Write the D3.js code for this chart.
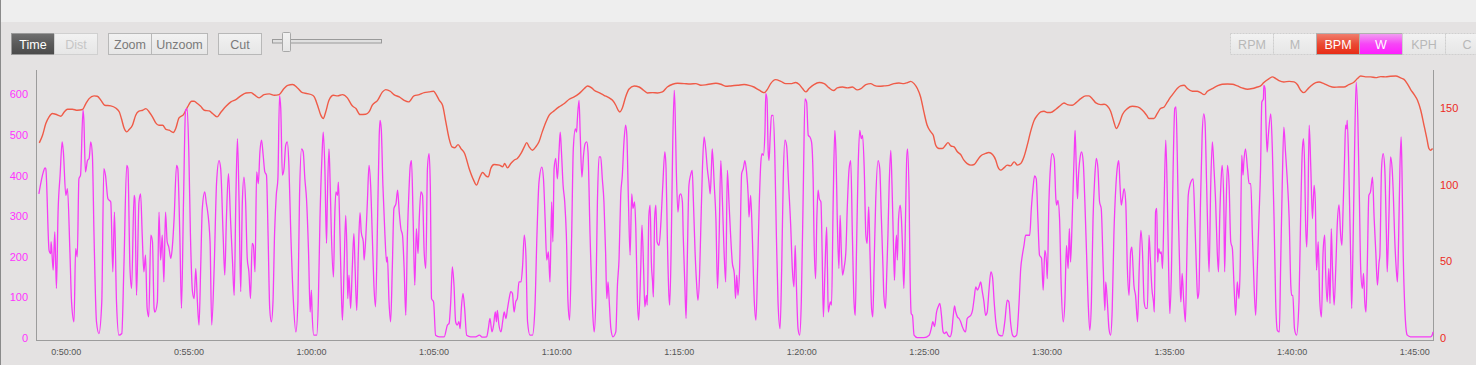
<!DOCTYPE html>
<html><head><meta charset="utf-8">
<script src="https://cdn.jsdelivr.net/npm/d3@7"></script>
<style>
html,body{margin:0;padding:0;background:#e4e2e2;overflow:hidden;}
svg{display:block;font-family:"Liberation Sans",Arial,Helvetica,sans-serif;}
</style></head><body>
<svg id="chart" width="1476" height="365"></svg>
<script>
// ---------- data ----------
const timeTicks = [3000,3300,3600,3900,4200,4500,4800,5100,5400,5700,6000,6300];
const wattTicks = [0,100,200,300,400,500,600];
const bpmTicks = [0,50,100,150];
const timeExtent = [2927, 6346];
const wattMax = 660;
const bpmMax = 175;
const leftButtons = ["Time","Dist"];
const zoomButtons = ["Zoom","Unzoom"];
const cutButtons = ["Cut"];
const seriesButtons = ["RPM","M","BPM","W","KPH","C"];

// heart rate [seconds, bpm]
const bpmPoints = [
[2935,127.4],[2943,132.4],[2951,140.0],[2959,144.4],[2967,146.6],[2975,146.1],[2988,144.8],[2996,147.6],[3004,149.4],[3016,149.4],
[3028,148.7],[3041,149.2],[3049,153.1],[3057,156.3],[3069,158.1],[3077,157.9],[3086,155.2],[3095,152.0],[3110,151.6],[3122,150.2],
[3131,147.6],[3136,143.3],[3143,136.8],[3149,134.6],[3155,136.1],[3163,138.9],[3171,145.5],[3179,148.1],[3188,148.7],[3196,149.8],
[3204,147.6],[3212,144.4],[3220,140.5],[3228,138.9],[3237,138.9],[3245,136.3],[3253,135.7],[3263,134.2],[3269,136.8],[3277,143.7],
[3288,145.9],[3298,150.9],[3308,154.6],[3314,154.6],[3322,153.1],[3330,151.3],[3339,148.7],[3351,148.3],[3359,146.6],[3370,144.4],
[3379,147.2],[3392,151.3],[3404,154.2],[3416,155.7],[3428,158.1],[3441,160.0],[3453,160.2],[3461,158.9],[3473,156.8],[3485,158.9],
[3498,159.4],[3510,158.5],[3522,158.9],[3534,162.9],[3543,165.0],[3555,165.5],[3567,163.3],[3579,160.2],[3591,159.6],[3604,158.5],
[3608,157.4],[3616,152.0],[3624,145.5],[3630,143.3],[3636,147.6],[3644,155.2],[3655,158.5],[3665,158.1],[3677,158.9],[3689,156.8],
[3701,151.6],[3710,149.8],[3720,145.9],[3734,146.1],[3742,147.6],[3750,152.0],[3763,155.2],[3775,160.7],[3783,162.2],[3794,161.1],
[3803,158.9],[3816,157.4],[3828,155.2],[3839,154.2],[3852,158.1],[3865,158.9],[3877,160.2],[3889,160.7],[3900,161.1],[3905,159.6],
[3914,155.2],[3922,152.0],[3930,141.1],[3938,130.2],[3945,124.8],[3952,124.2],[3960,126.3],[3967,123.7],[3976,120.5],[3987,110.7],
[3998,103.1],[4005,99.8],[4012,104.2],[4020,108.1],[4028,105.9],[4034,105.2],[4040,110.7],[4048,113.3],[4061,112.9],[4069,111.8],
[4074,113.9],[4081,111.1],[4089,113.9],[4097,116.1],[4105,117.2],[4114,120.5],[4122,124.8],[4128,127.6],[4134,124.8],[4142,122.6],
[4150,124.8],[4158,128.1],[4166,134.6],[4175,141.1],[4183,145.5],[4195,148.3],[4207,150.9],[4220,153.1],[4232,155.9],[4244,157.4],
[4256,159.6],[4269,162.9],[4277,164.6],[4287,163.3],
[4293,161.8],[4305,160.2],[4317,158.5],[4330,156.8],[4338,155.2],[4346,152.0],[4352,148.7],[4356,147.6],[4362,150.2],[4370,157.4],
[4378,162.4],[4391,164.6],[4403,163.9],[4414,161.8],[4423,160.0],[4436,160.2],[4448,160.0],[4460,160.7],[4472,163.9],[4485,165.7],
[4497,166.3],[4513,166.1],[4529,165.9],[4542,166.1],[4554,165.0],[4570,165.5],[4591,166.3],[4603,165.7],[4615,164.4],[4627,164.6],
[4644,165.0],[4660,165.5],[4672,165.0],[4684,163.9],[4697,161.8],[4709,160.2],[4717,162.4],[4725,166.1],[4737,168.7],[4750,167.6],
[4762,166.1],[4774,166.1],[4786,166.8],[4795,165.5],[4803,162.9],[4811,160.7],[4819,162.9],[4831,165.5],[4844,166.8],[4856,166.1],
[4868,163.3],[4879,161.6],[4888,163.3],[4901,163.9],[4913,163.3],[4925,163.9],[4937,162.0],[4946,162.9],[4958,165.5],[4970,166.1],
[4978,165.0],[4990,164.4],[5002,164.6],[5015,165.0],[5027,166.1],[5039,166.5],[5051,166.1],[5060,166.8],[5068,167.6],[5076,166.1],
[5084,162.9],[5092,157.4],[5100,147.6],[5108,138.9],[5117,134.6],[5123,132.4],[5129,125.9],[5137,123.7],[5145,123.7],[5153,125.9],
[5159,127.6],[5166,125.5],[5174,124.8],[5182,121.6],[5190,119.8],[5198,116.1],[5206,113.9],[5215,112.9],[5223,113.3],[5231,116.1],
[5239,118.9],[5251,120.5],[5259,121.1],[5268,119.8],[5276,116.1],[5281,111.8],[5288,109.6],[5296,111.1],[5304,112.9],[5312,112.4],
[5321,115.0],[5329,112.9],[5337,113.9],[5345,118.3],[5353,125.9],[5361,134.6],[5370,142.2],[5378,145.5],[5386,147.6],[5394,148.1],
[5402,147.2],[5410,147.2],[5423,149.4],[5435,152.0],[5443,153.5],[5451,152.4],[5463,152.0],[5472,153.5],[5484,156.3],[5496,158.1],
[5504,158.1],[5512,156.3],[5521,153.5],[5533,152.4],[5541,152.6],[5549,151.5],[5557,148.1],[5565,141.1],[5571,136.8],[5578,140.0],
[5586,145.9],[5598,149.8],[5610,151.3],[5623,150.9],[5635,148.7],[5645,145.5],[5651,143.3],
[5663,143.3],[5671,146.5],[5679,149.8],[5688,150.9],[5696,154.2],[5704,157.4],[5712,160.2],[5720,162.9],[5728,164.6],[5737,165.0],
[5745,162.9],[5757,161.1],[5769,161.1],[5777,160.2],[5786,158.9],[5794,161.1],[5806,162.9],[5818,164.6],[5830,165.7],[5843,165.9],
[5855,165.7],[5867,164.6],[5879,163.3],[5892,162.4],[5904,162.9],[5916,163.9],[5924,164.6],[5932,166.8],[5945,169.4],[5953,170.5],
[5961,169.4],[5969,168.1],[5981,167.2],[5994,167.6],[6006,167.2],[6014,165.5],[6022,161.8],[6030,160.2],[6039,162.4],[6047,164.6],
[6059,166.8],[6067,167.2],[6079,166.1],[6091,164.6],[6104,163.7],[6116,163.9],[6128,163.9],[6140,165.5],[6153,167.2],[6161,169.4],
[6169,171.1],[6181,170.5],[6193,170.5],[6206,170.0],[6218,170.7],[6230,170.5],[6242,170.9],[6255,171.1],[6267,169.8],[6275,168.9],
[6283,166.1],[6291,162.4],[6300,158.9],[6308,155.2],[6316,148.7],[6324,138.9],[6331,130.2],[6336,123.7],[6340,122.6],[6345,123.7]
];

// power [seconds, watts]
const wattPoints = [
[2934,355],[2945,409],[2949,419],[2951,417],[2959,216],[2963,208],[2964,237],[2969,167],[2973,261],[2977,122],
[2981,310],[2986,401],[2991,483],[2994,458],[3000,351],[3004,368],[3010,212],[3014,89],[3020,40],[3024,220],
[3028,200],[3032,392],[3036,401],[3042,561],[3044,540],[3048,409],[3053,437],[3057,442],[3061,483],[3065,450],
[3069,253],[3075,40],[3081,11],[3088,89],[3093,417],[3097,401],[3103,343],[3110,335],[3115,163],[3119,310],
[3124,89],[3130,7],[3137,11],[3142,171],[3149,425],[3152,417],[3157,171],[3161,122],[3167,351],[3169,343],
[3173,105],[3179,335],[3183,355],[3187,253],[3191,163],[3195,204],[3199,73],[3203,52],[3208,253],[3212,237],
[3216,73],[3218,64],[3224,89],[3228,310],[3232,192],[3236,253],[3240,138],[3244,310],[3248,237],[3252,224],
[3257,196],[3261,228],[3265,294],[3271,425],[3274,417],[3279,253],[3283,73],[3288,335],[3293,561],[3297,565],
[3301,458],[3305,253],[3310,114],[3314,97],[3318,171],[3322,89],[3326,32],[3330,171],[3334,319],[3340,360],
[3344,331],[3346,319],[3353,237],[3357,32],[3363,171],[3369,384],[3375,437],[3379,417],[3385,253],[3389,155],
[3393,294],[3398,405],[3403,294],[3408,187],[3412,105],[3416,335],[3420,491],[3424,335],[3428,114],[3432,335],
[3436,396],[3440,335],[3444,196],[3448,163],[3452,97],[3456,233],[3459,228],[3463,163],[3467,409],[3471,380],
[3475,458],[3479,487],[3483,450],[3487,409],[3491,401],[3495,253],[3499,73],[3503,40],[3507,89],[3511,261],
[3515,351],[3519,392],[3523,597],[3526,565],[3530,401],[3534,417],[3538,474],[3542,483],[3546,425],[3550,278],
[3557,89],[3563,15],[3568,89],[3572,351],[3577,466],[3581,458],[3585,392],[3589,343],[3594,212],[3598,64],
[3601,118],[3603,56],[3607,7],
[3614,7],[3618,89],[3622,294],[3627,450],[3630,507],[3634,417],[3638,233],[3640,335],[3644,466],[3646,417],
[3650,253],[3655,150],[3658,294],[3661,360],[3665,351],[3667,384],[3671,253],[3675,89],[3677,44],[3681,171],
[3685,302],[3688,212],[3690,97],[3693,155],[3697,73],[3701,171],[3705,257],[3708,171],[3712,68],[3716,212],
[3720,309],[3723,261],[3728,237],[3730,192],[3734,245],[3738,335],[3742,425],[3746,376],[3750,253],[3754,130],
[3758,77],[3763,294],[3767,499],[3769,536],[3772,515],[3776,376],[3781,253],[3785,187],[3787,200],[3791,89],
[3795,40],[3799,171],[3803,319],[3808,331],[3812,364],[3816,310],[3820,269],[3824,253],[3828,171],[3832,56],
[3836,253],[3840,368],[3843,425],[3846,437],[3850,294],[3854,130],[3858,269],[3862,208],[3865,294],[3869,360],
[3873,351],[3877,212],[3881,171],[3885,417],[3889,454],[3892,376],[3895,97],[3900,89],[3905,7],[3914,3],
[3926,3],[3934,32],[3938,36],[3942,89],[3946,175],[3950,130],[3954,40],[3958,32],[3962,40],[3965,23],
[3968,73],[3972,110],[3976,73],[3981,7],[3991,3],[4003,3],[4012,7],[4020,2],[4030,3],[4034,23],
[4038,48],[4043,15],[4047,32],[4051,64],[4054,40],[4056,68],[4060,32],[4065,15],[4069,40],[4073,64],
[4077,48],[4081,73],[4085,97],[4089,114],[4093,110],[4097,64],[4101,89],[4105,97],[4109,138],[4114,138],
[4118,179],[4122,253],[4126,204],[4130,40],[4136,7],[4142,7],[4148,73],[4153,253],[4158,384],[4165,421],
[4169,392],[4173,294],[4177,192],[4181,212],[4185,138],[4189,335],[4192,237],[4195,417],[4199,442],[4203,392],
[4207,458],[4210,507],[4213,458],[4217,376],[4221,335],[4225,253],[4229,89],[4233,44],[4238,253],[4242,466],
[4247,515],[4250,507],[4252,540],[4256,585],[4259,499],[4263,396],[4267,450],[4271,479],[4275,483],[4278,458],
[4283,253],[4289,73],
[4293,15],[4297,89],[4301,335],[4305,446],[4309,446],[4313,392],[4317,335],[4321,212],[4324,97],[4327,138],
[4330,89],[4334,23],[4339,3],[4346,15],[4350,130],[4354,196],[4358,351],[4362,401],[4366,483],[4370,524],
[4373,499],[4377,335],[4381,204],[4385,355],[4388,319],[4392,335],[4395,269],[4399,89],[4402,44],[4407,171],
[4410,278],[4414,171],[4417,77],[4421,105],[4423,81],[4427,302],[4430,327],[4433,187],[4436,138],[4438,101],
[4441,294],[4444,327],[4447,237],[4452,228],[4456,278],[4461,376],[4466,458],[4469,417],[4472,253],[4476,105],
[4478,81],[4482,253],[4485,458],[4489,610],[4491,565],[4494,417],[4498,310],[4502,351],[4505,355],[4509,335],
[4511,253],[4515,130],[4518,48],[4521,196],[4525,376],[4529,401],[4533,413],[4536,335],[4540,212],[4544,130],
[4547,93],[4551,155],[4554,269],[4558,417],[4562,495],[4566,466],[4570,417],[4574,384],[4577,355],[4580,417],
[4582,466],[4587,376],[4591,294],[4595,122],[4599,253],[4603,437],[4607,335],[4611,212],[4615,138],[4619,413],
[4623,335],[4627,253],[4631,187],[4636,159],[4639,97],[4642,155],[4645,105],[4649,171],[4654,405],[4658,417],
[4662,437],[4666,409],[4670,351],[4672,298],[4676,351],[4680,253],[4685,89],[4689,44],[4693,171],[4697,327],
[4701,433],[4704,454],[4707,450],[4711,507],[4713,602],[4716,589],[4719,458],[4721,437],[4724,499],[4727,548],
[4731,548],[4735,458],[4739,253],[4743,89],[4748,23],[4752,171],[4756,401],[4760,487],[4764,474],[4769,376],
[4774,278],[4778,171],[4782,126],[4785,228],[4788,130],[4792,23],[4796,7],[4800,89],[4805,376],[4809,589],
[4813,581],[4817,499],[4821,495],[4825,483],[4829,392],[4831,253],[4835,146],[4838,294],[4841,364],[4844,343],
[4848,335],[4851,212],[4854,52],[4858,171],[4862,273],[4864,171],[4866,64],[4871,89],[4874,81],[4878,335],
[4882,511],[4885,450],[4888,294],[4892,171],[4895,302],[4898,212],[4901,155],[4905,175],[4909,212],[4913,335],
[4917,417],[4921,437],[4925,253],[4929,89],[4932,56],[4935,212],[4939,417],[4943,511],[4947,491],[4950,499],
[4954,417],[4958,253],[4961,233],[4965,323],[4968,212],[4972,73],[4975,52],[4978,171],[4982,335],
[4988,437],[4992,417],[4996,294],[5000,171],[5002,105],[5006,73],[5009,155],[5012,253],[5015,376],[5019,462],
[5022,376],[5025,253],[5028,142],[5030,204],[5033,253],[5035,192],[5038,294],[5042,327],[5045,294],[5048,212],
[5051,122],[5055,294],[5058,442],[5060,466],[5064,335],[5066,171],[5069,60],[5072,56],[5076,7],[5084,1],
[5100,1],[5113,7],[5118,23],[5122,40],[5126,28],[5131,64],[5135,77],[5139,85],[5143,56],[5147,15],
[5151,11],[5155,15],[5159,7],[5164,3],[5168,15],[5172,56],[5175,79],[5178,64],[5182,52],[5186,48],
[5190,40],[5194,28],[5198,19],[5202,15],[5206,48],[5210,52],[5215,56],[5219,68],[5223,97],[5227,126],
[5231,118],[5235,126],[5239,138],[5243,114],[5247,89],[5251,56],[5255,64],[5259,114],[5264,163],[5268,150],
[5272,89],[5276,40],[5280,15],[5284,7],[5292,5],[5298,40],[5304,93],[5308,89],[5312,40],[5317,7],
[5321,3],[5327,7],[5333,89],[5337,171],[5341,204],[5345,228],[5349,253],[5355,253],[5359,253],[5363,319],
[5367,368],[5371,399],[5375,392],[5379,294],[5383,204],[5388,196],[5392,118],[5396,216],[5400,187],[5402,146],
[5406,335],[5410,425],[5414,454],[5419,442],[5423,343],[5425,327],[5428,339],[5432,294],[5436,130],[5441,40],
[5445,89],[5449,228],[5453,171],[5456,269],[5459,187],[5463,294],[5468,458],[5470,511],[5473,417],[5476,343],
[5478,392],[5482,442],[5486,458],[5490,433],[5494,335],[5498,212],[5502,89],[5506,19],[5510,89],[5514,294],
[5518,392],[5522,442],[5526,417],[5530,335],[5534,319],[5539,171],[5543,68],[5545,138],[5549,89],[5553,23],
[5557,7],[5561,73],[5565,253],[5570,376],[5574,425],[5577,437],[5580,376],[5583,327],[5586,343],[5590,368],
[5594,335],[5598,171],[5602,105],[5606,212],[5609,224],[5612,171],[5614,130],[5618,105],[5623,40],[5627,171],
[5631,265],[5635,212],[5639,89],[5643,73],[5647,73],[5651,253],[5654,200],[5658,122],[5662,89],
[5664,64],[5667,310],[5670,319],[5672,187],[5675,220],[5678,208],[5681,212],[5684,171],[5688,335],[5692,487],
[5696,335],[5699,171],[5702,60],[5706,171],[5710,417],[5714,565],[5717,569],[5720,458],[5723,294],[5727,130],
[5729,89],[5732,159],[5736,89],[5740,40],[5743,171],[5747,351],[5751,376],[5755,388],[5759,392],[5763,294],
[5767,171],[5770,97],[5773,114],[5777,335],[5781,499],[5785,552],[5788,532],[5792,376],[5795,253],[5798,163],
[5802,376],[5806,483],[5810,417],[5814,335],[5818,212],[5821,163],[5824,294],[5828,401],[5830,425],[5834,335],
[5836,163],[5839,294],[5843,425],[5847,376],[5851,237],[5855,220],[5859,130],[5863,56],[5867,138],[5871,97],
[5874,171],[5878,450],[5881,401],[5883,433],[5887,466],[5892,417],[5896,380],[5900,380],[5904,253],[5908,130],
[5912,56],[5916,171],[5920,294],[5924,417],[5927,581],[5931,589],[5932,622],[5935,614],[5937,540],[5940,458],
[5943,499],[5949,552],[5953,458],[5957,294],[5961,89],[5965,19],[5970,15],[5973,171],[5977,376],[5981,519],
[5985,458],[5989,396],[5994,294],[5998,130],[6000,105],[6003,105],[6007,23],[6012,7],[6018,89],[6022,294],
[6026,458],[6029,491],[6032,417],[6034,294],[6037,224],[6040,335],[6043,524],[6047,417],[6051,294],[6055,376],
[6058,335],[6061,167],[6065,237],[6069,89],[6073,52],[6077,212],[6081,253],[6083,171],[6087,89],[6091,171],
[6094,85],[6097,269],[6100,171],[6104,81],[6108,171],[6112,286],[6116,328],[6120,253],[6123,228],[6126,319],
[6130,458],[6132,524],[6135,515],[6136,536],[6140,417],[6145,171],[6147,73],[6150,212],[6154,458],[6158,630],
[6162,540],[6166,335],[6169,171],[6173,122],[6176,159],[6179,89],[6182,64],[6185,171],[6189,351],[6193,360],
[6198,396],[6202,294],[6206,212],[6210,130],[6214,187],[6216,204],[6220,417],[6224,454],[6228,417],[6232,253],
[6234,163],[6238,294],[6242,446],[6246,417],[6249,351],[6252,253],[6256,171],[6259,138],[6262,253],[6265,417],
[6268,495],[6270,417],[6273,212],[6277,73],[6280,23],[6283,7],[6291,3],[6316,3],[6340,3],[6344,7],[6346,15]
];

// ---------- drawing ----------
const svg = d3.select("#chart");
const W = 1476, H = 365;
const plot = {left: 36, right: 1433, top: 70, zero: 338, axis: 340};

const x = d3.scaleLinear().domain(timeExtent).range([plot.left, plot.right]);
const yW = d3.scaleLinear().domain([0, wattMax]).range([plot.zero, plot.top]);
const yB = d3.scaleLinear().domain([0, bpmMax]).range([plot.zero, plot.top]);

const defs = svg.append("defs");
function grad(id, stops){
  const g = defs.append("linearGradient").attr("id", id).attr("x1",0).attr("y1",0).attr("x2",0).attr("y2",1);
  stops.forEach(([o,c]) => g.append("stop").attr("offset", o).attr("stop-color", c));
}
grad("gDark", [[0,"#707070"],[0.5,"#5a5a5a"],[1,"#4a4a4a"]]);
grad("gLight", [[0,"#f2f2f2"],[1,"#e6e6e6"]]);
grad("gRed", [[0,"#f08070"],[0.5,"#ea4a34"],[1,"#e82a14"]]);
grad("gMag", [[0,"#f0a0f0"],[0.5,"#f646f6"],[1,"#ff1cff"]]);

// background
svg.append("rect").attr("width", W).attr("height", H).attr("fill", "#e4e2e2");
svg.append("rect").attr("width", W).attr("height", 22).attr("fill", "#eeeeee");
svg.append("line").attr("x1",0.5).attr("x2",0.5).attr("y1",0).attr("y2",H).attr("stroke","#8a8a8a");

// toolbar buttons
const btnY = 33, btnH = 21, btnW = 43;
function drawButtons(labels, x0, widths, styleFn){
  let cx = x0;
  labels.forEach((lab, i) => {
    const w = widths[i];
    const st = styleFn(lab, i);
    svg.append("rect").attr("x", cx + 0.5).attr("y", btnY + 0.5).attr("width", w).attr("height", btnH)
      .attr("fill", st.fill).attr("stroke", st.stroke || "#b8b8b8").attr("stroke-width", 1)
      .attr("stroke-dasharray", st.dash || null);
    svg.append("text").attr("x", cx + w/2 + 0.5).attr("y", btnY + btnH/2 + 5)
      .attr("text-anchor", "middle").attr("font-size", 12.5).attr("fill", st.text).text(lab);
    cx += w;
  });
}
drawButtons(leftButtons, 11, [43, 43], (l,i) => i === 0 ? {fill:"url(#gDark)", text:"#ffffff", stroke:"#9a9a9a"} : {fill:"url(#gLight)", text:"#c6c6c6", stroke:"#d0d0d0"});
drawButtons(zoomButtons, 108, [43, 56], () => ({fill:"url(#gLight)", text:"#7a7a7a"}));
drawButtons(cutButtons, 218, [43], () => ({fill:"url(#gLight)", text:"#7a7a7a"}));

// slider
svg.append("rect").attr("x", 272.5).attr("y", 39.5).attr("width", 109).attr("height", 3.5)
  .attr("fill", "#e0e0e0").attr("stroke", "#9a9a9a");
svg.append("rect").attr("x", 282.5).attr("y", 32.5).attr("width", 8).attr("height", 19).attr("rx", 1)
  .attr("fill", "url(#gLight)").attr("stroke", "#a8a8a8");

// series toggle buttons
drawButtons(seriesButtons, 1230, seriesButtons.map(() => btnW), (l) => {
  if (l === "BPM") return {fill:"url(#gRed)", text:"#ffffff", stroke:"#b0b0b0"};
  if (l === "W") return {fill:"url(#gMag)", text:"#ffffff", stroke:"#b0b0b0"};
  return {fill:"url(#gLight)", text:"#b8b8b8", stroke:"#cfcfcf", dash:"2,1"};
});

// frame
svg.append("line").attr("x1", plot.left + 0.5).attr("x2", plot.left + 0.5).attr("y1", plot.top).attr("y2", plot.axis + 0.5).attr("stroke", "#9c9c9c");
svg.append("line").attr("x1", plot.right + 0.5).attr("x2", plot.right + 0.5).attr("y1", plot.top).attr("y2", plot.axis + 0.5).attr("stroke", "#9c9c9c");
svg.append("line").attr("x1", plot.left).attr("x2", plot.right + 1).attr("y1", plot.axis + 0.5).attr("y2", plot.axis + 0.5).attr("stroke", "#9c9c9c");

// axes
const fmt = s => { const h = Math.floor(s/3600), m = Math.floor((s%3600)/60), ss = Math.round(s%60);
  return h + ":" + String(m).padStart(2,"0") + ":" + String(ss).padStart(2,"0"); };

const gx = svg.append("g").attr("transform", `translate(0,${plot.axis})`)
  .call(d3.axisBottom(x).tickValues(timeTicks).tickFormat(fmt).tickSize(0).tickPadding(9));
gx.select(".domain").remove();
gx.selectAll("text").attr("font-size", 9).attr("fill", "#555").attr("font-family", "Liberation Sans, Arial, sans-serif");

const gl = svg.append("g").attr("transform", `translate(${plot.left},0)`)
  .call(d3.axisLeft(yW).tickValues(wattTicks).tickSize(0).tickPadding(8));
gl.select(".domain").remove();
gl.selectAll("text").attr("font-size", 11).attr("fill", "#ff33ff").attr("font-family", "Liberation Sans, Arial, sans-serif");

const gr = svg.append("g").attr("transform", `translate(${plot.right},0)`)
  .call(d3.axisRight(yB).tickValues(bpmTicks).tickSize(0).tickPadding(7));
gr.select(".domain").remove();
gr.selectAll("text").attr("font-size", 11).attr("fill", "#ec2a22").attr("font-family", "Liberation Sans, Arial, sans-serif");

// lines
const bpmLine = d3.line().x(d => x(d[0])).y(d => yB(d[1])).curve(d3.curveMonotoneX);
const wLine = d3.line().x(d => x(d[0])).y(d => yW(d[1])).curve(d3.curveMonotoneX);

svg.append("path").datum(bpmPoints).attr("d", bpmLine).attr("fill", "none")
  .attr("stroke", "#ef5b48").attr("stroke-width", 1.4).attr("stroke-linejoin", "round");
svg.append("path").datum(wattPoints).attr("d", wLine).attr("fill", "none")
  .attr("stroke", "#f53cf5").attr("stroke-width", 1.3).attr("stroke-linejoin", "round");
</script>
</body></html>
